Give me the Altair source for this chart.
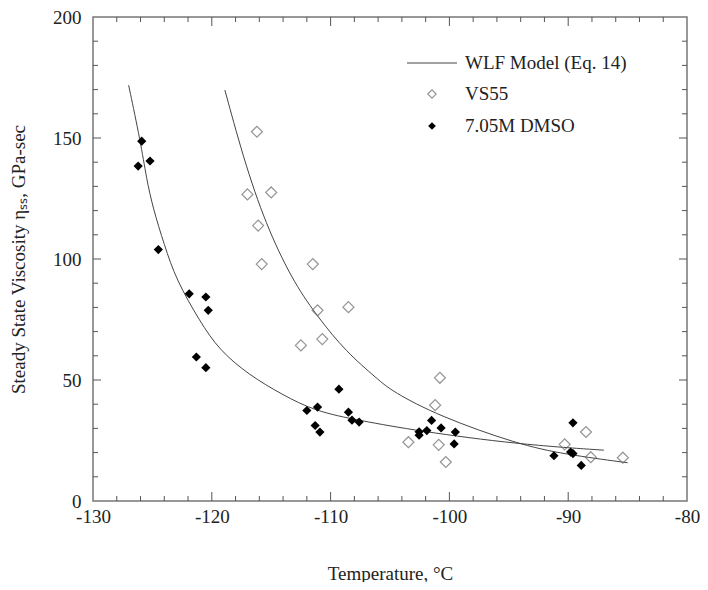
import altair as alt
import pandas as pd

# ---- data ----
dmso_T = [-126.2, -125.9, -125.2, -124.5, -121.9, -120.5, -120.3, -121.3, -120.5,
          -112.0, -111.1, -111.3, -110.9, -109.3, -108.5, -108.2, -107.6,
          -102.55, -102.55, -101.9, -101.5, -100.7, -99.5, -99.6,
          -91.2, -89.6, -89.6, -89.8, -88.9]
dmso_V = [138.4, 148.7, 140.5, 103.9, 85.6, 84.3, 78.8, 59.5, 55.1,
          37.4, 38.8, 31.2, 28.5, 46.2, 36.7, 33.4, 32.6,
          28.6, 27.2, 29.1, 33.3, 30.2, 28.5, 23.6,
          18.7, 32.3, 19.6, 20.2, 14.7]

vs55_T = [-116.2, -117.0, -115.0, -116.1, -115.8, -111.5, -111.1, -108.5, -112.5,
          -110.7, -100.8, -101.2, -103.45, -100.9, -100.3, -90.3, -88.5, -88.1, -85.4]
vs55_V = [152.6, 126.7, 127.5, 113.8, 97.9, 97.9, 78.8, 80.1, 64.3,
          66.9, 50.9, 39.6, 24.3, 23.2, 16.1, 23.4, 28.5, 18.1, 17.9]

wlf_dmso_T = [-127.0, -126.0, -125.5, -124.95, -124.0, -123.0, -121.0, -119.4,
              -116.9, -114.1, -111.3, -107.6, -102.6, -94.2, -87.0]
wlf_dmso_V = [171.8, 148.5, 133.3, 121.0, 105.9, 91.4, 74.2, 62.5,
              52.2, 44.0, 37.1, 33.3, 28.9, 23.4, 21.0]

wlf_vs55_T = [-118.9, -117.1, -115.2, -113.0, -111.0, -108.75, -106.0, -104.85,
              -100.9, -94.2, -90.3, -85.0]
wlf_vs55_V = [169.8, 137.5, 111.3, 89.4, 75.6, 61.9, 50.2, 45.4,
              35.1, 23.4, 19.3, 15.8]

x_labels = [-130, -120, -110, -100, -90, -80]
y_labels = [0, 50, 100, 150, 200]
x_minor = [v for v in range(-128, -80, 2) if v % 10 != 0]
x_major = [-120, -110, -100, -90]
y_minor = [v for v in range(10, 200, 10) if v % 50 != 0]
y_major = [50, 100, 150]

legend_labels = ["WLF Model (Eq. 14)", "VS55", "7.05M DMSO"]

W, H = 594, 484
FONT = "Liberation Serif, Times New Roman, serif"

xs = alt.Scale(domain=[-130, -80], nice=False, zero=False)
ys = alt.Scale(domain=[0, 200], nice=False, zero=False)

dmso = pd.DataFrame({"T": dmso_T, "V": dmso_V})
vs55 = pd.DataFrame({"T": vs55_T, "V": vs55_V})
curves = pd.concat([
    pd.DataFrame({"T": wlf_dmso_T, "V": wlf_dmso_V, "s": "dmso"}),
    pd.DataFrame({"T": wlf_vs55_T, "V": wlf_vs55_V, "s": "vs55"}),
])

X = alt.X("T:Q", scale=xs,
          axis=alt.Axis(values=x_labels, title="Temperature, °C", grid=False,
                        ticks=False, domain=False, labelPadding=6, labelFlush=False,
                        labelExpr="'' + datum.value", titlePadding=38))
Y = alt.Y("V:Q", scale=ys,
          axis=alt.Axis(values=y_labels, title="Steady State Viscosity ηₛₛ, GPa-sec",
                        grid=False, ticks=False, domain=False, labelPadding=12,
                        labelFlush=False, labelExpr="'' + datum.value", titlePadding=24))

lines = alt.Chart(curves).mark_line(color="#444", strokeWidth=1,
                                    interpolate="basis").encode(
    x=X, y=Y, detail="s:N", order=alt.Order("T:Q"))
open_pts = alt.Chart(vs55).mark_point(shape="diamond", size=120, filled=False,
                                      color="#666", strokeWidth=1.2).encode(
    x=alt.X("T:Q", scale=xs), y=alt.Y("V:Q", scale=ys))
filled_pts = alt.Chart(dmso).mark_point(shape="diamond", size=85, filled=True,
                                        color="#000", opacity=1).encode(
    x=alt.X("T:Q", scale=xs), y=alt.Y("V:Q", scale=ys))

TICK_COLOR = "#555"


def xticks(vals, length):
    d = pd.DataFrame({"T": vals})
    bottom = alt.Chart(d).mark_rule(color=TICK_COLOR, strokeWidth=1).encode(
        x=alt.X("T:Q", scale=xs), y=alt.value(H), y2=alt.value(H - length))
    top = alt.Chart(d).mark_rule(color=TICK_COLOR, strokeWidth=1).encode(
        x=alt.X("T:Q", scale=xs), y=alt.value(0), y2=alt.value(length))
    return [bottom, top]


def yticks(vals, length):
    d = pd.DataFrame({"V": vals})
    left = alt.Chart(d).mark_rule(color=TICK_COLOR, strokeWidth=1).encode(
        y=alt.Y("V:Q", scale=ys), x=alt.value(0), x2=alt.value(length))
    right = alt.Chart(d).mark_rule(color=TICK_COLOR, strokeWidth=1).encode(
        y=alt.Y("V:Q", scale=ys), x=alt.value(W), x2=alt.value(W - length))
    return [left, right]


tick_layers = xticks(x_minor, 5) + xticks(x_major, 9) + yticks(y_minor, 5) + yticks(y_major, 8)

# legend (manual)
LX_TEXT, LX_SYM = 372, 339
leg_rows = [46, 77, 109]
leg = pd.DataFrame({"label": legend_labels})
leg_line = alt.Chart(leg.iloc[[0]]).mark_rule(color="#444", strokeWidth=1).encode(
    x=alt.value(314), x2=alt.value(364), y=alt.value(leg_rows[0]))
leg_texts = [
    alt.Chart(leg.iloc[[i]]).mark_text(align="left", baseline="middle", font=FONT,
                                       fontSize=19, color="#222").encode(
        x=alt.value(LX_TEXT), y=alt.value(leg_rows[i]), text="label:N")
    for i in range(3)
]
leg_open = alt.Chart(leg.iloc[[1]]).mark_point(shape="diamond", size=70, filled=False,
                                              color="#666", strokeWidth=1.1).encode(
    x=alt.value(LX_SYM), y=alt.value(leg_rows[1]))
leg_fill = alt.Chart(leg.iloc[[2]]).mark_point(shape="diamond", size=60, filled=True,
                                              color="#000", opacity=1).encode(
    x=alt.value(LX_SYM), y=alt.value(leg_rows[2]))

chart = alt.layer(
    lines, open_pts, filled_pts, *tick_layers, leg_line, leg_open, leg_fill, *leg_texts
).properties(
    width=W, height=H,
    autosize=alt.AutoSizeParams(type="none"),
    padding={"left": 85, "top": 9, "right": 13, "bottom": 81},
    background="white",
).configure_view(stroke="#777", strokeWidth=1.5).configure_axis(
    labelFont=FONT, labelFontSize=19, labelColor="#222",
    titleFont=FONT, titleFontSize=19, titleFontWeight="normal", titleColor="#222",
).configure_text(font=FONT)

chart.save("out.html", embed_options={"renderer": "svg", "actions": False})
